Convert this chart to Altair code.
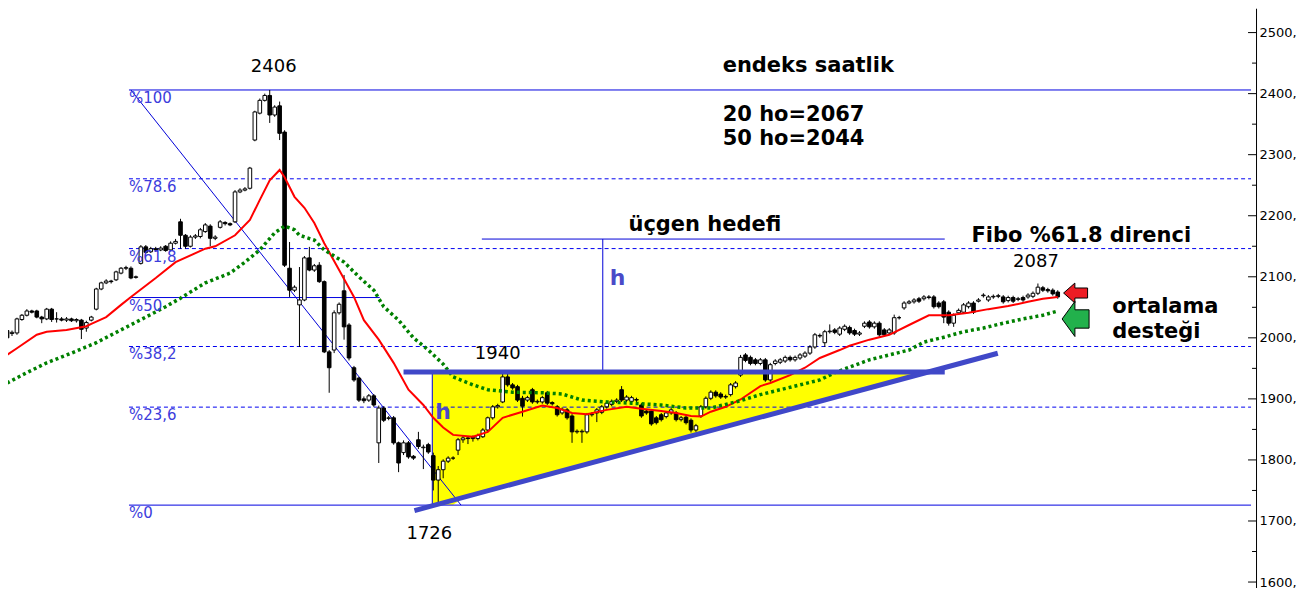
import altair as alt
import pandas as pd

# ---------------- data (hourly candles) ----------------
opens = [2012, 2007, 2008, 2030, 2037, 2044, 2044, 2034, 2031, 2047,
         2031, 2031, 2029, 2031, 2028, 2029, 2016, 2029, 2047, 2080,
         2090, 2093, 2095, 2106, 2114, 2114, 2099, 2122, 2149, 2141,
         2146, 2144, 2150, 2144, 2155, 2190, 2168, 2150, 2165, 2166,
         2174, 2183, 2163, 2181, 2189, 2187, 2190, 2239, 2242, 2245,
         2324, 2368, 2389, 2397, 2365, 2380, 2337, 2114, 2078, 2054,
         2062, 2131, 2111, 2119, 2092, 1977, 1980, 2041, 2077, 2021,
         1951, 1934, 1900, 1898, 1905, 1828, 1885, 1868, 1869, 1828,
         1812, 1828, 1806, 1833, 1820, 1825, 1807, 1767, 1784, 1798,
         1803, 1816, 1833, 1836, 1835, 1835, 1838, 1849, 1869, 1887,
         1895, 1936, 1923, 1920, 1901, 1898, 1915, 1895, 1895, 1910,
         1894, 1887, 1877, 1882, 1872, 1846, 1846, 1846, 1874, 1877,
         1878, 1887, 1891, 1896, 1915, 1898, 1896, 1899, 1890, 1880,
         1880, 1869, 1874, 1871, 1877, 1877, 1866, 1870, 1865, 1849,
         1872, 1887, 1901, 1911, 1908, 1903, 1907, 1920, 1939, 1972,
         1968, 1964, 1958, 1964, 1931, 1958, 1960, 1962, 1968, 1964,
         1967, 1970, 1975, 1985, 2004, 1992, 2010, 2013, 2006, 2014,
         2017, 2012, 2006, 2019, 2026, 2018, 2024, 2013, 2008, 2008,
         2033, 2049, 2057, 2059, 2064, 2064, 2067, 2067, 2057, 2059,
         2042, 2024, 2041, 2042, 2051, 2057, 2060, 2069, 2062, 2067,
         2068, 2067, 2061, 2066, 2063, 2066, 2067, 2068, 2073, 2082,
         2079, 2078, 2075]
closes = [2000, 2009, 2031, 2037, 2044, 2042, 2034, 2031, 2047, 2030,
          2031, 2029, 2031, 2028, 2030, 2014, 2025, 2034, 2080, 2090,
          2093, 2092, 2108, 2114, 2115, 2098, 2100, 2149, 2140, 2146,
          2144, 2147, 2143, 2155, 2158, 2168, 2150, 2165, 2167, 2177,
          2185, 2163, 2165, 2190, 2187, 2185, 2239, 2242, 2244, 2278,
          2370, 2389, 2397, 2365, 2378, 2335, 2119, 2078, 2083, 2062,
          2131, 2111, 2118, 2092, 1977, 1951, 2041, 2055, 2018, 1967,
          1931, 1898, 1897, 1905, 1890, 1885, 1865, 1869, 1828, 1795,
          1828, 1805, 1803, 1822, 1821, 1813, 1767, 1784, 1798, 1803,
          1803, 1833, 1836, 1835, 1837, 1840, 1849, 1869, 1887, 1889,
          1936, 1923, 1918, 1898, 1888, 1902, 1895, 1896, 1902, 1893,
          1892, 1874, 1883, 1869, 1846, 1847, 1847, 1874, 1875, 1882,
          1887, 1893, 1896, 1898, 1898, 1903, 1902, 1898, 1872, 1877,
          1859, 1861, 1866, 1877, 1882, 1866, 1869, 1861, 1849, 1856,
          1887, 1901, 1911, 1905, 1903, 1904, 1923, 1926, 1968, 1963,
          1958, 1958, 1964, 1931, 1956, 1962, 1964, 1968, 1964, 1968,
          1972, 1975, 1985, 2005, 2003, 2010, 2011, 2009, 2016, 2019,
          2008, 2006, 2008, 2024, 2018, 2024, 2005, 2005, 2013, 2033,
          2033, 2057, 2059, 2062, 2060, 2067, 2066, 2051, 2051, 2034,
          2024, 2037, 2045, 2054, 2057, 2042, 2062, 2070, 2067, 2068,
          2069, 2059, 2066, 2060, 2064, 2062, 2070, 2073, 2083, 2078,
          2077, 2072, 2067]
highs = [2016, 2012, 2033, 2039, 2047, 2046, 2046, 2036, 2049, 2049,
         2042, 2034, 2034, 2033, 2032, 2031, 2028, 2036, 2082, 2092,
         2096, 2095, 2110, 2116, 2118, 2117, 2102, 2152, 2152, 2149,
         2149, 2150, 2152, 2158, 2162, 2195, 2170, 2168, 2170, 2180,
         2188, 2186, 2168, 2193, 2191, 2189, 2242, 2245, 2247, 2280,
         2372, 2392, 2400, 2406, 2381, 2387, 2340, 2157, 2086, 2116,
         2134, 2149, 2121, 2124, 2094, 1980, 2045, 2058, 2103, 2024,
         1954, 1936, 1904, 1908, 1908, 1889, 1888, 1872, 1872, 1830,
         1832, 1831, 1808, 1846, 1825, 1828, 1812, 1790, 1801, 1806,
         1806, 1836, 1840, 1839, 1840, 1843, 1852, 1871, 1890, 1892,
         1942, 1942, 1926, 1923, 1905, 1905, 1918, 1899, 1905, 1913,
         1896, 1890, 1886, 1885, 1875, 1850, 1850, 1877, 1878, 1885,
         1890, 1896, 1899, 1901, 1921, 1906, 1905, 1902, 1893, 1883,
         1883, 1872, 1877, 1880, 1885, 1880, 1872, 1873, 1868, 1859,
         1890, 1904, 1914, 1914, 1911, 1907, 1926, 1929, 1972, 1975,
         1971, 1967, 1967, 1967, 1959, 1965, 1967, 1971, 1971, 1971,
         1975, 1978, 1988, 2008, 2007, 2013, 2022, 2016, 2019, 2022,
         2020, 2015, 2011, 2027, 2029, 2027, 2027, 2016, 2016, 2038,
         2036, 2060, 2062, 2065, 2067, 2070, 2070, 2070, 2060, 2062,
         2045, 2040, 2048, 2057, 2060, 2060, 2065, 2073, 2070, 2071,
         2072, 2070, 2069, 2069, 2067, 2069, 2073, 2076, 2089, 2085,
         2082, 2081, 2078]
lows = [1998, 2003, 2005, 2028, 2035, 2040, 2032, 2024, 2029, 2026,
        2025, 2027, 2026, 2026, 2025, 1998, 2010, 2027, 2045, 2078,
        2088, 2089, 2093, 2104, 2111, 2096, 2097, 2120, 2138, 2139,
        2141, 2142, 2141, 2142, 2153, 2146, 2146, 2148, 2162, 2163,
        2172, 2150, 2160, 2179, 2184, 2183, 2188, 2237, 2240, 2243,
        2322, 2366, 2387, 2352, 2362, 2324, 2116, 2067, 2075, 1985,
        2060, 2109, 2108, 2090, 1975, 1910, 1975, 2038, 1997, 1963,
        1928, 1895, 1893, 1895, 1887, 1795, 1862, 1865, 1825, 1780,
        1808, 1802, 1800, 1818, 1785, 1810, 1750, 1726, 1770, 1795,
        1800, 1808, 1828, 1826, 1830, 1832, 1836, 1846, 1866, 1884,
        1893, 1920, 1915, 1895, 1871, 1895, 1892, 1892, 1892, 1890,
        1889, 1871, 1874, 1866, 1828, 1843, 1828, 1843, 1871, 1862,
        1875, 1884, 1888, 1893, 1895, 1895, 1893, 1895, 1869, 1874,
        1856, 1858, 1863, 1868, 1874, 1863, 1863, 1858, 1845, 1846,
        1869, 1884, 1898, 1902, 1900, 1900, 1904, 1917, 1936, 1960,
        1955, 1955, 1955, 1928, 1928, 1955, 1957, 1959, 1961, 1961,
        1964, 1967, 1972, 1982, 2000, 1985, 2007, 2006, 2003, 2011,
        2005, 2003, 2003, 2016, 2015, 2015, 2000, 2002, 2005, 2005,
        2030, 2046, 2055, 2056, 2057, 2061, 2063, 2048, 2048, 2024,
        2020, 2018, 2038, 2039, 2048, 2039, 2058, 2066, 2059, 2064,
        2065, 2056, 2058, 2057, 2060, 2059, 2064, 2065, 2070, 2075,
        2074, 2069, 2064]

# 20-hour average (red) and 50-hour average (green)
ma20_t = [0, 2, 6, 8, 12, 16, 17, 20, 23, 25, 30, 34, 40, 42, 46, 49, 51, 53, 55, 56,
          58, 60, 62, 64, 67, 70, 72, 75, 78, 81, 84, 86, 88, 90, 94, 97, 100, 104, 108, 111,
          114, 117, 121, 125, 128, 132, 135, 138, 140, 142, 145, 148, 152, 154, 158, 161,
          164, 168, 170, 174, 178, 182, 186, 190, 194, 198, 202, 206, 209, 212]
ma20_v = [1972, 1983, 2005, 2010, 2013, 2019, 2023, 2034, 2054, 2067, 2098, 2124, 2146, 2150,
          2168, 2193, 2226, 2258, 2275, 2263, 2231, 2213, 2188, 2155, 2111, 2067, 2029, 1997,
          1959, 1915, 1890, 1869, 1853, 1841, 1838, 1846, 1869, 1879, 1889, 1885, 1877, 1875,
          1882, 1887, 1884, 1880, 1877, 1872, 1871, 1879, 1887, 1899, 1921, 1926, 1939, 1951,
          1967, 1980, 1987, 1997, 2005, 2021, 2037, 2037, 2041, 2047, 2052, 2059, 2064, 2067]
ma50_t = [0, 4, 8, 13, 18, 23, 28, 32, 35, 40, 45, 48, 51, 54, 56, 58, 59, 62, 64, 68,
          71, 74, 76, 79, 82, 85, 88, 90, 94, 97, 102, 108, 112, 116, 121, 126, 132, 137, 142, 148,
          152, 156, 160, 164, 167, 170, 174, 178, 182, 185, 189, 193, 197, 201, 205, 209, 212]
ma50_v = [1926, 1943, 1959, 1975, 1992, 2013, 2034, 2051, 2065, 2090, 2106, 2124, 2144, 2172,
          2183, 2177, 2168, 2160, 2144, 2124, 2100, 2078, 2051, 2029, 2000, 1980, 1957, 1936,
          1923, 1915, 1911, 1910, 1908, 1898, 1895, 1893, 1890, 1885, 1885, 1897, 1907, 1915,
          1923, 1931, 1943, 1952, 1964, 1972, 1980, 1993, 2001, 2010, 2016, 2024, 2031, 2037, 2044]

# Fibonacci retracement levels (1726 -> 2406)
fib_levels = [2406, 2260.5, 2146.2, 2066, 1985.8, 1886.5, 1726]
fib_labels = ["%100", "%78.6", "%61,8", "%50", "%38,2", "%23,6", "%0"]
fib_dashed = [False, True, True, False, True, True, False]
fib_start = [24.6, 24.6, 24.6, 24.6, 24.6, 24.6, 24.6]
fib_end = [251, 251, 251, 75.2, 251, 251, 251]

# thin annotation segments: fibo diagonal, triangle left edge, target line, target height
thin_t = [25, 85.8, 95.8, 120.2]
thin_t2 = [91.6, 85.8, 189.2, 120.2]
thin_p = [2406, 1726.5, 2161.8, 1944]
thin_p2 = [1726, 1944, 2161.8, 2161.8]
# thick triangle lines: resistance 1940 and rising support
thick_t = [80, 82.2]
thick_t2 = [189.2, 199.9]
thick_p = [1944, 1717.1]
thick_p2 = [1944, 1974.8]
# yellow triangle
tri_t = [85.8, 90, 92, 185.9]
tri_top = [1944, 1944, 1944, 1944]
tri_bottom = [1726.5, 1726.5, 1737, 1944]

# texts
bold_left_text = ["endeks saatlik", "20 ho=2067", "50 ho=2044", "Fibo %61.8 direnci", "ortalama", "desteği"]
bold_left_t = [144.4, 144.4, 144.4, 194.6, 223, 223]
bold_left_p = [2445, 2364.8, 2325.5, 2166.7, 2050.5, 2009.6]
bold_center_text = ["üçgen hedefi"]
bold_center_t = [140.8]
bold_center_p = [2184.7]
plain_text = ["2406", "1940", "1726", "2087"]
plain_t = [53.8, 99, 85.2, 207.6]
plain_p = [2443.3, 1973.6, 1679, 2124.2]
h_text = ["h", "h"]
h_t = [123.2, 88]
h_p = [2098, 1878.7]

arrow_t = [215.6, 215.6]
arrow_p = [2073.4, 2030.9]

major_ticks = list(range(1600, 2501, 100))
minor_ticks = list(range(1650, 2500, 100))

# ---------------- chart ----------------
W, H = 1249, 580
FONT = "DejaVu Sans"
xs = alt.Scale(domain=[1.2, 251], nice=False, zero=False)
ys = alt.Scale(domain=[1590.6, 2539.9], nice=False, zero=False)
yaxis = alt.Axis(orient="right", values=major_ticks, labelExpr="datum.value + ','",
                 ticks=False, grid=False, domainColor="black", domainWidth=1,
                 labelFont=FONT, labelFontSize=13, labelColor="black", labelPadding=3,
                 labelOverlap=False, title=None)


def X(f):
    return alt.X(f, type="quantitative", scale=xs, axis=None)


def Y(f):
    return alt.Y(f, type="quantitative", scale=ys, axis=yaxis, title=None)


candles = pd.DataFrame({"t": list(range(len(opens))), "open": opens, "high": highs,
                        "low": lows, "close": closes})
fib = pd.DataFrame({"lvl": fib_levels, "label": fib_labels, "dashed": fib_dashed,
                    "t": fib_start, "t2": fib_end})
thin = pd.DataFrame({"t": thin_t, "t2": thin_t2, "p": thin_p, "p2": thin_p2})
thick = pd.DataFrame({"t": thick_t, "t2": thick_t2, "p": thick_p, "p2": thick_p2})
tri = pd.DataFrame({"t": tri_t, "top": tri_top, "bottom": tri_bottom})
ma20 = pd.DataFrame({"t": ma20_t, "v": ma20_v})
ma50 = pd.DataFrame({"t": ma50_t, "v": ma50_v})

yellow = alt.Chart(tri).mark_area(color="#ffff00", opacity=1, clip=True).encode(
    x=X("t"), y=Y("top"), y2="bottom")

fib_solid = alt.Chart(fib).transform_filter("!datum.dashed").mark_rule(
    color="#0000e0", strokeWidth=1, clip=True).encode(x=X("t"), x2="t2", y=Y("lvl"))
fib_dash = alt.Chart(fib).transform_filter("datum.dashed").mark_rule(
    color="#0000f0", strokeWidth=1, strokeDash=[4, 3], clip=True).encode(x=X("t"), x2="t2", y=Y("lvl"))
fib_text = alt.Chart(fib).mark_text(
    align="left", baseline="middle", dy=8, font=FONT, fontSize=15, color="#3c3cdc").encode(
    x=X("t"), y=Y("lvl"), text="label")

thin_lines = alt.Chart(thin).mark_rule(color="#0000d8", strokeWidth=1, clip=True).encode(
    x=X("t"), x2="t2", y=Y("p"), y2="p2")

wicks = alt.Chart(candles).mark_rule(color="black", strokeWidth=1, clip=True).encode(
    x=X("t"), y=Y("low"), y2="high")
bodies = alt.Chart(candles).mark_bar(size=3.6, stroke="black", strokeWidth=1, clip=True).encode(
    x=X("t"), y=Y("open"), y2="close",
    fill=alt.condition("datum.close >= datum.open", alt.value("white"), alt.value("black")))

line20 = alt.Chart(ma20).mark_line(color="#ff0000", strokeWidth=2, clip=True).encode(
    x=X("t"), y=Y("v"))
line50 = alt.Chart(ma50).mark_line(color="#008000", strokeWidth=3.5, strokeDash=[3, 3],
                                   strokeCap="butt", clip=True).encode(x=X("t"), y=Y("v"))

thick_lines = alt.Chart(thick).mark_rule(color="#4048c8", strokeWidth=5, clip=True).encode(
    x=X("t"), x2="t2", y=Y("p"), y2="p2")

t_bold_left = alt.Chart(pd.DataFrame({"t": bold_left_t, "p": bold_left_p, "s": bold_left_text})).mark_text(
    align="left", baseline="middle", font=FONT, fontSize=21, fontWeight="bold", color="black").encode(
    x=X("t"), y=Y("p"), text="s")
t_bold_center = alt.Chart(pd.DataFrame({"t": bold_center_t, "p": bold_center_p, "s": bold_center_text})).mark_text(
    align="center", baseline="middle", font=FONT, fontSize=21, fontWeight="bold", color="black").encode(
    x=X("t"), y=Y("p"), text="s")
t_plain = alt.Chart(pd.DataFrame({"t": plain_t, "p": plain_p, "s": plain_text})).mark_text(
    align="center", baseline="middle", font=FONT, fontSize=18, color="black").encode(
    x=X("t"), y=Y("p"), text="s")
t_h = alt.Chart(pd.DataFrame({"t": h_t, "p": h_p, "s": h_text})).mark_text(
    align="center", baseline="middle", font=FONT, fontSize=22, fontWeight="bold", color="#4a4ac8").encode(
    x=X("t"), y=Y("p"), text="s")

red_arrow = alt.Chart(pd.DataFrame({"t": arrow_t[:1], "p": arrow_p[:1]})).mark_point(
    shape="M-1,0L-0.06,-0.83L-0.06,-0.42L1,-0.42L1,0.42L-0.06,0.42L-0.06,0.83Z",
    size=576, filled=True, fill="#ed1c24", stroke="black", strokeWidth=1, opacity=1).encode(
    x=X("t"), y=Y("p"))
green_arrow = alt.Chart(pd.DataFrame({"t": arrow_t[1:], "p": arrow_p[1:]})).mark_point(
    shape="M-1,0L-0.05,-1.3L-0.05,-0.68L1,-0.68L1,0.68L-0.05,0.68L-0.05,1.3Z",
    size=729, filled=True, fill="#22b14c", stroke="black", strokeWidth=1, opacity=1).encode(
    x=X("t"), y=Y("p"))

tick_major = alt.Chart(pd.DataFrame({"v": major_ticks})).mark_rule(color="black", strokeWidth=1).encode(
    y=Y("v"), x=alt.value(W - 8), x2=alt.value(W))
tick_minor = alt.Chart(pd.DataFrame({"v": minor_ticks})).mark_rule(color="black", strokeWidth=1).encode(
    y=Y("v"), x=alt.value(W - 4), x2=alt.value(W))

chart = alt.layer(
    yellow, fib_solid, fib_dash, thin_lines, wicks, bodies, line20, line50, thick_lines,
    fib_text, t_bold_left, t_bold_center, t_plain, t_h, red_arrow, green_arrow,
    tick_major, tick_minor
).properties(
    width=W, height=H,
    autosize=alt.AutoSizeParams(type="none"),
    padding={"left": 0, "top": 0, "right": 40, "bottom": 0},
    background="white",
).configure_view(stroke=None)

chart.save("out.html", embed_options={"renderer": "svg", "actions": False})
